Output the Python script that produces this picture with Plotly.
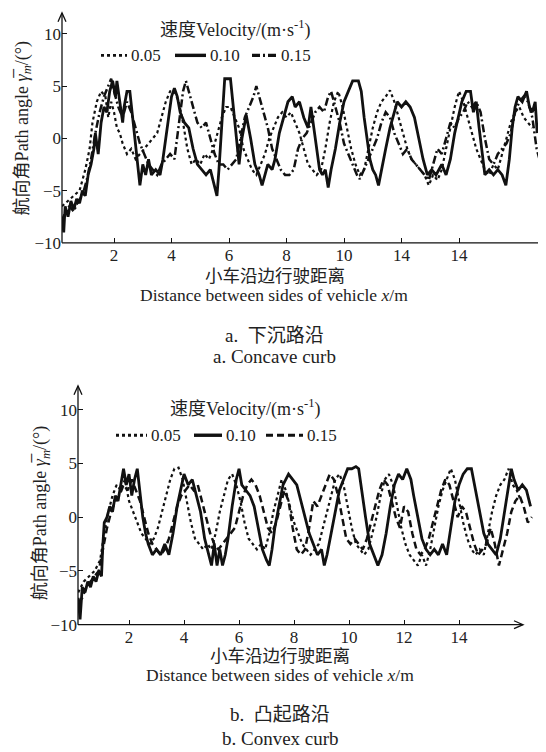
import plotly.graph_objects as go

# ---------------- data: (a) concave curb ----------------
a_x_010 = [0.19,0.25,0.3,0.4,0.5,0.6,0.7,0.8,0.9,1.0,1.1,1.2,1.3,1.35,1.45,1.55,1.65,1.75,1.85,1.95,2.05,2.1,2.2,2.3,2.35,2.45,2.55,2.65,2.75,2.9,3.0,3.1,3.2,3.3,3.45,3.6,3.7,3.85,4.0,4.1,4.2,4.3,4.45,4.6,4.75,4.9,5.05,5.2,5.35,5.5,5.58,5.65,5.75,5.85,6.05,6.15,6.25,6.35,6.45,6.6,6.75,6.9,7.05,7.15,7.25,7.35,7.5,7.6,7.75,7.9,8.05,8.2,8.3,8.45,8.6,8.75,8.85,8.95,9.05,9.15,9.25,9.35,9.45,9.55,9.7,9.85,10.0,10.15,10.3,10.5,10.6,10.7,10.8,10.9,11.0,11.1,11.2,11.3,11.45,11.6,11.75,11.85,12.0,12.15,12.3,12.45,12.6,12.75,12.9,13.05,13.2,13.4,13.55,13.7,13.85,14.0,14.1,14.25,14.4,14.5,14.6,14.7,14.8,14.9,15.05,15.2,15.35,15.5,15.63,15.75,15.85,15.95,16.05,16.2,16.35,16.45,16.55,16.65,16.72]
a_y_010 = [-7.5,-9.0,-6.5,-7.5,-6.0,-6.8,-5.8,-6.2,-5.0,-5.5,-3.5,-2.5,-1.0,0.5,-1.5,1.5,3.0,2.5,4.5,5.5,4.0,5.5,3.5,1.5,3.0,4.5,4.5,2.0,-1.0,-4.5,-2.5,-3.5,-2.0,-3.5,-3.0,-3.5,-2.0,1.0,4.0,4.8,4.0,2.5,1.5,1.0,-1.0,-2.5,-3.0,-3.5,-3.0,-4.5,-5.5,-3.0,1.0,5.7,5.7,3.0,0.5,-2.5,0.0,2.2,0.0,-2.5,-3.5,-4.5,-3.5,-2.5,-3.0,-2.0,0.5,2.0,3.5,4.0,3.0,3.5,2.0,1.0,3.0,1.0,-1.0,-3.0,-3.5,-3.0,-4.7,-3.0,-1.0,1.5,3.5,4.5,5.5,5.5,4.5,2.0,0.0,-2.0,-3.0,-3.5,-4.5,-3.0,-1.0,1.0,2.5,3.5,3.0,3.5,3.0,2.0,0.0,-2.0,-3.5,-3.0,-3.5,-2.5,-3.5,-2.0,0.5,2.5,3.5,4.5,4.5,2.5,3.5,1.0,-1.5,-3.5,-3.0,-3.5,-3.0,-3.5,-4.5,-2.0,1.0,3.0,4.0,3.5,4.5,3.0,2.5,3.5,0.5]

a_x_005 = [0.19,0.4,0.6,0.8,1.0,1.15,1.25,1.4,1.55,1.7,1.8,1.9,2.0,2.1,2.2,2.3,2.45,2.6,2.75,2.9,3.05,3.2,3.35,3.5,3.65,3.8,3.95,4.1,4.25,4.4,4.55,4.7,4.85,5.0,5.15,5.3,5.45,5.6,5.75,5.9,6.05,6.2,6.35,6.5,6.65,6.8,6.95,7.1,7.25,7.4,7.55,7.7,7.85,8.0,8.15,8.3,8.45,8.6,8.75,8.9,9.05,9.2,9.35,9.5,9.65,9.8,9.95,10.1,10.25,10.4,10.55,10.7,10.85,11.0,11.15,11.3,11.45,11.6,11.75,11.9,12.05,12.2,12.35,12.5,12.65,12.8,12.95,13.1,13.25,13.4,13.55,13.7,13.85,14.0,14.15,14.3,14.45,14.6,14.75,14.9,15.05,15.2,15.35,15.5,15.65,15.8,15.95,16.1,16.25,16.4,16.55]
a_y_005 = [-6.5,-6.0,-5.5,-5.0,-3.0,-1.0,1.5,3.5,4.5,4.0,2.0,3.5,2.5,1.0,0.5,-0.5,-1.5,-1.0,-2.0,-1.5,-1.0,-0.5,0.0,0.5,2.0,3.5,4.5,4.5,3.5,1.5,-1.0,-2.5,-2.0,-2.5,-1.5,-2.0,-1.0,0.5,2.0,3.0,3.0,2.0,1.0,-1.0,-2.0,-3.0,-3.5,-2.5,-1.5,0.0,1.0,2.0,2.5,2.0,2.5,1.5,0.5,-1.0,-2.5,-3.0,-3.5,-3.0,-1.0,1.5,3.5,4.5,3.0,1.0,-1.0,-2.5,-3.5,-3.0,-1.0,1.0,2.5,3.5,4.0,4.6,3.5,2.0,0.5,-1.0,-2.0,-2.5,-3.0,-3.5,-4.5,-3.5,-4.0,-3.0,-1.0,1.0,3.0,4.5,3.5,2.0,0.5,-1.0,-2.0,-3.0,-3.5,-2.5,-3.0,-1.5,0.0,1.5,2.5,3.0,2.0,1.5,1.0]

a_x_015 = [0.19,0.3,0.45,0.6,0.75,0.9,1.05,1.2,1.35,1.5,1.65,1.8,1.9,2.0,2.15,2.3,2.45,2.6,2.75,2.9,3.05,3.2,3.35,3.5,3.65,3.8,3.95,4.1,4.25,4.4,4.5,4.6,4.75,4.9,5.05,5.2,5.35,5.5,5.65,5.8,5.95,6.1,6.25,6.4,6.55,6.7,6.85,6.95,7.05,7.2,7.35,7.5,7.65,7.8,7.95,8.1,8.25,8.4,8.55,8.7,8.85,9.0,9.15,9.3,9.45,9.55,9.7,9.85,10.0,10.15,10.3,10.45,10.55,10.7,10.85,11.0,11.15,11.3,11.45,11.6,11.75,11.9,12.05,12.2,12.35,12.5,12.65,12.8,12.95,13.1,13.25,13.4,13.55,13.7,13.85,14.0,14.15,14.3,14.45,14.6,14.75,14.9,15.05,15.2,15.35,15.5,15.65,15.8,15.95,16.1,16.25,16.4,16.55,16.7,16.85]
a_y_015 = [-8.0,-7.0,-6.5,-7.0,-6.0,-5.5,-4.0,-2.0,0.5,2.5,4.0,5.0,5.7,4.5,3.0,2.0,3.5,2.5,1.0,-0.5,-1.5,-2.5,-3.0,-3.5,-2.5,-2.0,-1.5,-2.0,1.0,4.5,5.5,4.5,3.0,1.5,1.0,1.5,0.0,-1.5,-2.5,-2.5,-3.0,-2.5,-2.0,0.0,2.0,3.0,4.0,5.0,4.0,2.5,1.0,-1.0,-2.0,-3.0,-3.5,-3.5,-3.0,-1.0,0.0,0.5,1.5,2.5,3.0,2.5,4.0,4.5,3.0,1.5,-0.5,-1.5,-2.5,-3.5,-3.9,-3.0,-2.0,-1.0,0.0,1.5,2.5,2.0,0.5,-0.5,-1.5,-1.0,-2.0,-2.5,-3.0,-3.5,-4.0,-2.5,-1.0,-1.5,0.0,1.5,1.0,2.0,2.5,3.5,3.0,3.5,2.5,0.0,-2.0,-2.5,-1.5,-1.0,-0.5,0.5,2.5,3.5,4.0,3.5,2.0,-1.0,-2.5]

# ---------------- data: (b) convex curb ----------------
b_x_010 = [0.15,0.22,0.3,0.4,0.5,0.6,0.7,0.8,0.9,1.0,1.05,1.1,1.2,1.3,1.4,1.5,1.6,1.7,1.8,1.9,2.0,2.1,2.2,2.3,2.4,2.5,2.6,2.7,2.85,3.0,3.15,3.3,3.45,3.6,3.75,3.9,4.0,4.15,4.3,4.45,4.6,4.75,4.9,5.0,5.1,5.2,5.3,5.4,5.5,5.6,5.75,5.9,6.0,6.1,6.25,6.4,6.55,6.7,6.85,7.0,7.1,7.2,7.3,7.45,7.6,7.8,7.95,8.1,8.25,8.4,8.55,8.7,8.85,9.0,9.1,9.2,9.35,9.5,9.65,9.8,9.95,10.1,10.25,10.35,10.45,10.6,10.75,10.9,11.05,11.2,11.35,11.5,11.65,11.8,11.95,12.1,12.25,12.35,12.5,12.65,12.8,12.95,13.1,13.25,13.4,13.55,13.7,13.85,14.0,14.15,14.3,14.45,14.6,14.75,14.9,15.05,15.2,15.35,15.5,15.65,15.8,15.9,16.0,16.15,16.3,16.45,16.6]
b_y_010 = [-7.5,-9.5,-6.5,-7.0,-6.0,-6.5,-5.5,-6.0,-5.0,-5.5,-2.5,-0.5,0.0,1.0,0.5,2.0,1.5,3.0,4.5,3.0,4.0,2.0,3.5,4.5,2.0,0.0,-1.5,-2.5,-3.5,-3.0,-3.5,-2.5,-3.5,-1.5,1.0,3.0,4.0,3.0,3.5,2.0,0.5,-2.0,-3.5,-4.5,-2.5,-4.5,-3.0,-4.5,-3.5,-2.0,1.0,3.5,4.5,3.0,2.5,2.0,1.0,-1.0,-3.0,-4.0,-4.5,-3.0,-1.0,1.0,3.0,4.0,3.5,3.0,1.5,0.0,-1.5,-2.5,-3.5,-3.0,-4.5,-3.5,-1.5,0.5,2.5,3.5,4.5,4.5,4.7,4.5,2.5,0.0,-2.5,-3.5,-4.5,-3.5,-1.5,1.0,3.0,4.0,3.5,4.5,3.5,2.0,0.0,-2.0,-3.0,-3.5,-3.0,-3.5,-2.5,-3.5,-1.0,1.5,3.0,4.0,4.5,4.5,2.5,0.5,-1.5,-2.5,-3.0,-3.5,-2.0,0.5,3.0,4.5,3.5,2.5,3.0,2.5,1.0]

b_x_005 = [0.15,0.35,0.55,0.75,0.95,1.1,1.25,1.4,1.55,1.7,1.85,2.0,2.15,2.3,2.45,2.6,2.75,2.9,3.05,3.2,3.35,3.5,3.65,3.8,3.95,4.1,4.25,4.4,4.55,4.7,4.85,5.0,5.15,5.3,5.45,5.6,5.75,5.9,6.05,6.2,6.35,6.5,6.65,6.8,6.95,7.1,7.25,7.4,7.55,7.7,7.85,8.0,8.15,8.3,8.45,8.6,8.75,8.9,9.05,9.2,9.35,9.5,9.65,9.8,9.95,10.1,10.25,10.4,10.55,10.7,10.85,11.0,11.15,11.3,11.45,11.6,11.75,11.9,12.05,12.2,12.35,12.5,12.65,12.8,12.95,13.1,13.25,13.4,13.55,13.7,13.85,14.0,14.15,14.3,14.45,14.6,14.75,14.9,15.05,15.2,15.35,15.5,15.65,15.8,15.95,16.1,16.25]
b_y_005 = [-7.0,-6.0,-5.5,-5.0,-4.0,-1.5,0.5,2.0,3.0,2.5,3.5,1.5,0.5,-0.5,-1.5,-2.0,-2.5,-2.0,-1.0,0.5,2.0,3.5,4.5,4.6,3.5,1.5,-0.5,-2.0,-2.5,-3.0,-2.5,-3.0,-1.5,0.5,2.0,3.5,4.0,3.0,1.5,-0.5,-2.0,-2.5,-3.0,-2.5,-3.0,-1.5,0.5,2.0,3.5,2.5,1.0,-0.5,-1.5,-2.5,-3.0,-3.5,-3.0,-2.5,-1.0,0.5,2.0,3.5,4.0,3.0,1.0,-1.0,-2.5,-3.0,-3.5,-3.0,-1.5,0.0,2.0,3.5,4.0,3.0,1.0,-1.0,-2.5,-3.5,-4.0,-4.5,-3.5,-4.5,-3.0,-1.0,1.0,2.5,3.5,4.5,3.5,1.5,-0.5,-2.0,-3.0,-3.5,-3.0,-3.5,-1.5,0.5,2.0,3.0,3.5,4.5,3.0,2.5,1.5]

b_x_015 = [0.15,0.3,0.45,0.6,0.75,0.9,1.05,1.2,1.35,1.5,1.65,1.8,1.95,2.1,2.25,2.4,2.55,2.7,2.85,3.0,3.15,3.3,3.45,3.6,3.75,3.9,4.05,4.2,4.35,4.5,4.65,4.8,4.95,5.1,5.25,5.4,5.55,5.7,5.85,6.0,6.15,6.3,6.45,6.6,6.75,6.9,7.05,7.2,7.35,7.5,7.65,7.8,7.95,8.1,8.25,8.4,8.55,8.7,8.85,9.0,9.15,9.3,9.45,9.6,9.75,9.9,10.05,10.2,10.35,10.5,10.65,10.8,10.95,11.1,11.25,11.4,11.55,11.7,11.85,12.0,12.15,12.3,12.45,12.6,12.75,12.9,13.05,13.2,13.35,13.5,13.65,13.8,13.95,14.1,14.25,14.4,14.55,14.7,14.85,15.0,15.15,15.3,15.45,15.6,15.75,15.9,16.05,16.2,16.35,16.5,16.65]
b_y_015 = [-8.0,-7.5,-6.5,-6.0,-5.5,-5.0,-3.0,-1.0,0.5,1.5,2.0,3.0,2.5,3.5,2.5,1.5,0.0,-1.5,-2.5,-3.0,-3.5,-3.0,-2.0,-0.5,1.0,2.0,2.5,3.0,2.5,3.0,1.5,0.0,-1.5,-2.5,-3.0,-2.5,-2.0,-1.5,-1.0,0.5,2.0,3.0,3.5,3.0,2.0,0.5,-1.0,-1.5,-0.5,1.0,2.5,1.5,-1.0,-3.0,-3.5,-3.0,-1.0,1.5,1.0,2.0,3.0,4.0,3.5,2.0,0.0,-2.0,-2.5,-2.0,-2.5,-3.0,-2.0,-0.5,1.0,2.5,3.5,3.0,1.5,0.0,-1.0,1.0,0.5,-1.5,-3.0,-3.5,-3.0,-2.0,-0.5,1.0,2.5,3.5,3.0,1.5,0.0,1.0,0.5,-1.0,-2.5,-3.5,-3.0,-2.5,-1.0,-2.5,-4.5,-3.0,-1.5,0.5,1.5,2.0,1.0,-0.5,0.0]

y_tick_vals = [-10, -5, 0, 5, 10]
x_tick_vals = [2, 4, 6, 8, 10, 12, 14]
a_x_tick_text = ["2", "4", "6", "8", "10", "14", "14"]
b_x_tick_text = ["2", "4", "6", "8", "10", "12", "14"]
speeds = ["0.05", "0.10", "0.15"]

W, H = 546, 752
FONT = "Liberation Serif, Times New Roman, Noto Sans CJK SC, serif"
INK = "#111111"
TXT = "#222222"


def px(x):
    return x / W


def py(y):
    return 1 - y / H


fig = go.Figure()

styles_a = [dict(width=2.2, dash="dot"), dict(width=2.8, dash="solid"), dict(width=2.5, dash="8px,3px,2px,3px")]
styles_b = [dict(width=2.2, dash="dot"), dict(width=2.8, dash="solid"), dict(width=2.5, dash="7px,4px")]

for xs, ys, st in zip([a_x_005, a_x_010, a_x_015], [a_y_005, a_y_010, a_y_015], styles_a):
    fig.add_trace(go.Scatter(x=xs, y=ys, mode="lines", line=dict(color=INK, **st),
                             xaxis="x", yaxis="y", showlegend=False))
for xs, ys, st in zip([b_x_005, b_x_010, b_x_015], [b_y_005, b_y_010, b_y_015], styles_b):
    fig.add_trace(go.Scatter(x=xs, y=ys, mode="lines", line=dict(color=INK, **st),
                             xaxis="x2", yaxis="y2", showlegend=False))

axis_common = dict(showgrid=False, zeroline=False, showline=False, ticks="inside",
                   ticklen=5, tickwidth=1.2, tickcolor=INK,
                   tickfont=dict(family=FONT, size=17, color=TXT))

a_xr = [0.19, 17.2]
a_yr = [-10, 12]
b_xr = [0.145, 16.7]
b_yr = [-10, 12.2]

# pixel geometry of the two panels (left, right, bottom, top)
A = dict(l=54, r=543, b=238, t=5)
B = dict(l=70, r=525.3, b=625, t=383)

fig.update_layout(
    width=W, height=H, margin=dict(l=0, r=0, t=0, b=0),
    paper_bgcolor="white", plot_bgcolor="white",
    xaxis=dict(domain=[px(A["l"]), px(A["r"])], range=a_xr, anchor="y",
               tickvals=x_tick_vals, ticktext=a_x_tick_text, **axis_common),
    yaxis=dict(domain=[py(A["b"]), py(A["t"])], range=a_yr, anchor="x",
               tickvals=y_tick_vals, **axis_common),
    xaxis2=dict(domain=[px(B["l"]), px(B["r"])], range=b_xr, anchor="y2",
                tickvals=x_tick_vals, ticktext=b_x_tick_text, **axis_common),
    yaxis2=dict(domain=[py(B["b"]), py(B["t"])], range=b_yr, anchor="x2",
                tickvals=y_tick_vals, **axis_common),
)

shapes = []
AXW = 1.3


def axis_arrows(l, xend, b, t):
    # x axis line + open arrowhead
    shapes.append(dict(type="line", xref="paper", yref="paper", x0=px(l), x1=px(xend), y0=py(b), y1=py(b),
                       line=dict(color=INK, width=AXW)))
    shapes.append(dict(type="path", xref="paper", yref="paper",
                       path=f"M {px(xend-9)},{py(b-4)} L {px(xend)},{py(b)} L {px(xend-9)},{py(b+4)}",
                       line=dict(color=INK, width=AXW)))
    # y axis line + open arrowhead
    shapes.append(dict(type="line", xref="paper", yref="paper", x0=px(l), x1=px(l), y0=py(b), y1=py(t),
                       line=dict(color=INK, width=AXW)))
    shapes.append(dict(type="path", xref="paper", yref="paper",
                       path=f"M {px(l-4)},{py(t+9)} L {px(l)},{py(t)} L {px(l+4)},{py(t+9)}",
                       line=dict(color=INK, width=AXW)))


axis_arrows(A["l"], 543, A["b"], A["t"])
axis_arrows(B["l"], 515, B["b"], B["t"])

ann = []
ytitle = "航向角Path angle <i>γ̅</i><sub><i>m</i></sub>/(°)"
xt1 = "小车沿边行驶距离"
xt2 = "Distance between sides of vehicle <i>x</i>/m"
legend_title = "速度Velocity/(m·s<sup>-1</sup>)"


def text(x, y, t, size=17, angle=0, xanchor="center"):
    ann.append(dict(x=px(x), y=py(y), xref="paper", yref="paper", text=t, showarrow=False,
                    textangle=angle, xanchor=xanchor, yanchor="middle",
                    font=dict(family=FONT, size=size, color=TXT)))


# chart a texts
text(15, 122, ytitle, 18, -90)
text(267, 272, xt1, 17.5)
text(266, 291, xt2, 17.5)
text(266, 332, "a.  下沉路沿", 19)
text(266, 353, "a. Concave curb", 19)
text(150, 21, legend_title, 18, xanchor="left")

# chart b texts
text(33, 512, ytitle, 18, -90)
text(272, 657, xt1, 17.5)
text(272, 676, xt2, 17.5)
text(272, 716, "b.  凸起路沿", 19)
text(272, 740, "b. Convex curb", 19)
text(160, 405, legend_title, 18, xanchor="left")

leg_a = [(93, 119, 121, styles_a[0]), (167, 198, 200, styles_a[1]), (244, 268, 271, styles_a[2])]
for (x0, x1, tx, st), lab in zip(leg_a, speeds):
    shapes.append(dict(type="line", xref="paper", yref="paper", x0=px(x0), x1=px(x1), y0=py(48), y1=py(48),
                       line=dict(color=INK, width=st["width"] + 0.6, dash=st["dash"])))
    text(tx, 48, lab, 17, xanchor="left")
leg_b = [(108, 139, 141, styles_b[0]), (186, 214, 216, styles_b[1]), (258, 295, 297, styles_b[2])]
for (x0, x1, tx, st), lab in zip(leg_b, speeds):
    shapes.append(dict(type="line", xref="paper", yref="paper", x0=px(x0), x1=px(x1), y0=py(433), y1=py(433),
                       line=dict(color=INK, width=st["width"] + 0.6, dash=st["dash"])))
    text(tx, 433, lab, 17, xanchor="left")

fig.update_layout(annotations=ann, shapes=shapes)
fig.write_html("out.html")
